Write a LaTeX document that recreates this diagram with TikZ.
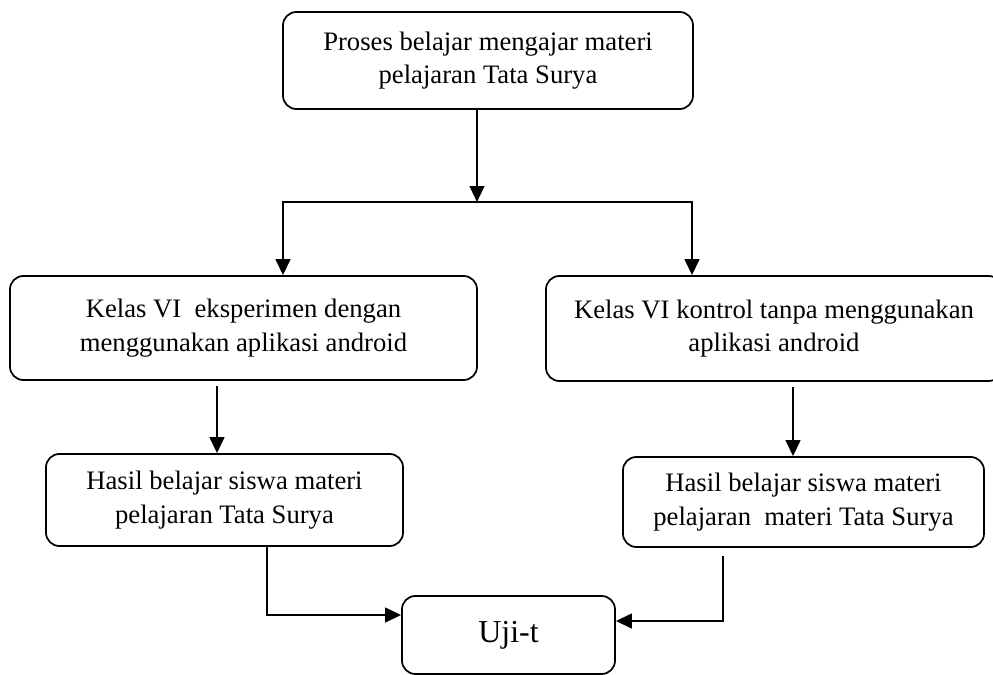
\documentclass[tikz,border=0pt]{standalone}
\usepackage{fontspec}
\setmainfont{Liberation Serif}
\usetikzlibrary{arrows.meta}
\begin{document}
\begin{tikzpicture}[x=0.75pt,y=-0.75pt,
  box/.style={draw, line width=1.3pt, rounded corners=10pt, align=center,
    inner sep=0pt, font=\fontsize{20}{25}\selectfont},
  arr/.style={line width=1.7pt, -{Triangle[length=12pt,width=11pt]}},
  twoarr/.style={line width=1.7pt, {Triangle[length=12pt,width=11pt]}-{Triangle[length=12pt,width=11pt]}}]
\useasboundingbox (0,0) rectangle (993,675);

\node[box, minimum width=307.5pt, minimum height=72.75pt] (top) at (488,60.5)
  {Proses belajar mengajar materi\\pelajaran Tata Surya};
\node[box, minimum width=350.25pt, minimum height=78pt] (kelasA) at (243.5,328)
  {Kelas VI\ \ eksperimen dengan\\menggunakan aplikasi android};
\node[box, minimum width=342pt, minimum height=78.75pt] (kelasB) at (774,328.5)
  {Kelas VI kontrol tanpa menggunakan\\aplikasi android};
\node[box, minimum width=267.75pt, minimum height=69pt] (hasilA) at (224.5,500)
  {Hasil belajar siswa materi\\pelajaran Tata Surya};
\node[box, minimum width=270.75pt, minimum height=67.5pt] (hasilB) at (803.5,502)
  {Hasil belajar siswa materi\\pelajaran\ \ materi Tata Surya};
\node[box, minimum width=159.75pt, minimum height=58.5pt, font=\fontsize{24}{29}\selectfont] (uji) at (508.5,635)
  {Uji-t};

\coordinate (jc) at (477,202);
\coordinate (jl) at (283,202);
\coordinate (jr) at (692,202);
\coordinate (xa) at (217,0);
\coordinate (xb) at (793,0);
\coordinate (xl) at (267,615);
\coordinate (xr) at (723,621);

\draw[arr] (top.south -| jc) -- (jc);
\draw[twoarr] (kelasA.north -| jl) -- (jl) -- (jr) -- (kelasB.north -| jr);
\draw[arr] ([yshift=-4pt]kelasA.south -| xa) -- (hasilA.north -| xa);
\draw[arr] ([yshift=-4pt]kelasB.south -| xb) -- (hasilB.north -| xb);
\draw[arr] (hasilA.south -| xl) |- (uji.west |- xl);
\draw[arr] ([yshift=-6pt]hasilB.south -| xr) |- (uji.east |- xr);
\end{tikzpicture}
\end{document}
